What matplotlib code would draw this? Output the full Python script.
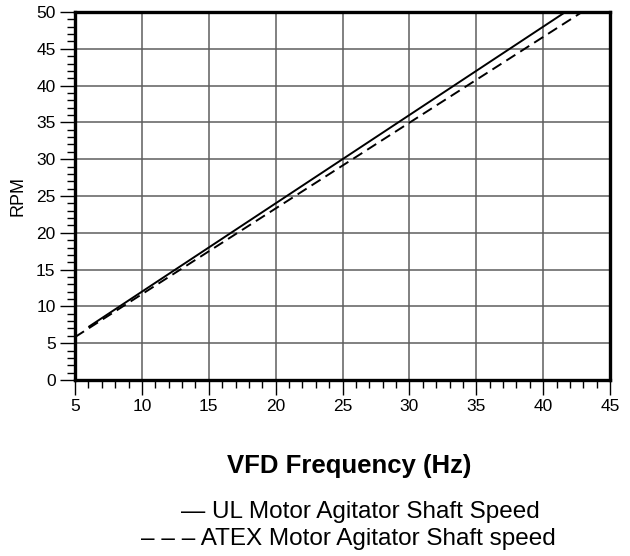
import matplotlib
matplotlib.use("Agg")
import matplotlib.pyplot as plt
from matplotlib.ticker import MultipleLocator

# shaft speed vs drive frequency
ul_hz = [6, 42]
ul_rpm = [7.2, 50.4]
atex_hz = [5, 43]
atex_rpm = [5.83, 50.1]

x_ticks = [5, 10, 15, 20, 25, 30, 35, 40, 45]
y_ticks = [0, 5, 10, 15, 20, 25, 30, 35, 40, 45, 50]

plt.rcParams["font.family"] = ["Liberation Sans", "DejaVu Sans"]

fig = plt.figure(figsize=(6.3, 5.56), dpi=100)
ax = fig.add_axes([75 / 630, 1 - 380 / 556, 535 / 630, 368 / 556])

ax.plot(ul_hz, ul_rpm, color="black", lw=1.4, solid_capstyle="butt")
ax.plot(atex_hz, atex_rpm, color="black", lw=1.4, ls=(0, (5.5, 3)))

ax.set_xlim(5, 45)
ax.set_ylim(0, 50)
ax.set_xticks(x_ticks)
ax.set_yticks(y_ticks)
ax.xaxis.set_minor_locator(MultipleLocator(1))
ax.yaxis.set_minor_locator(MultipleLocator(1))
ax.grid(True, which="major", color="#5e5e5e", lw=1.1)
ax.set_axisbelow(True)

for s in ax.spines.values():
    s.set_linewidth(2.4)
ax.tick_params(which="major", direction="out", length=11, width=1.0,
               labelsize=12.5, pad=3)
ax.tick_params(which="minor", direction="out", length=5.5, width=1.0)

ax.set_ylabel("RPM", fontsize=13, labelpad=7)

fig.text(349 / 630, 1 - 473 / 556, "VFD Frequency (Hz)", ha="center",
         va="baseline", fontsize=18.5, fontweight="bold")
fig.text(360 / 630, 1 - 518 / 556, "\u2014 UL Motor Agitator Shaft Speed",
         ha="center", va="baseline", fontsize=17.5)
fig.text(348 / 630, 1 - 545 / 556,
         "\u2013 \u2013 \u2013 ATEX Motor Agitator Shaft speed",
         ha="center", va="baseline", fontsize=17.5)

fig.savefig("out.png", dpi=100, facecolor="white")
